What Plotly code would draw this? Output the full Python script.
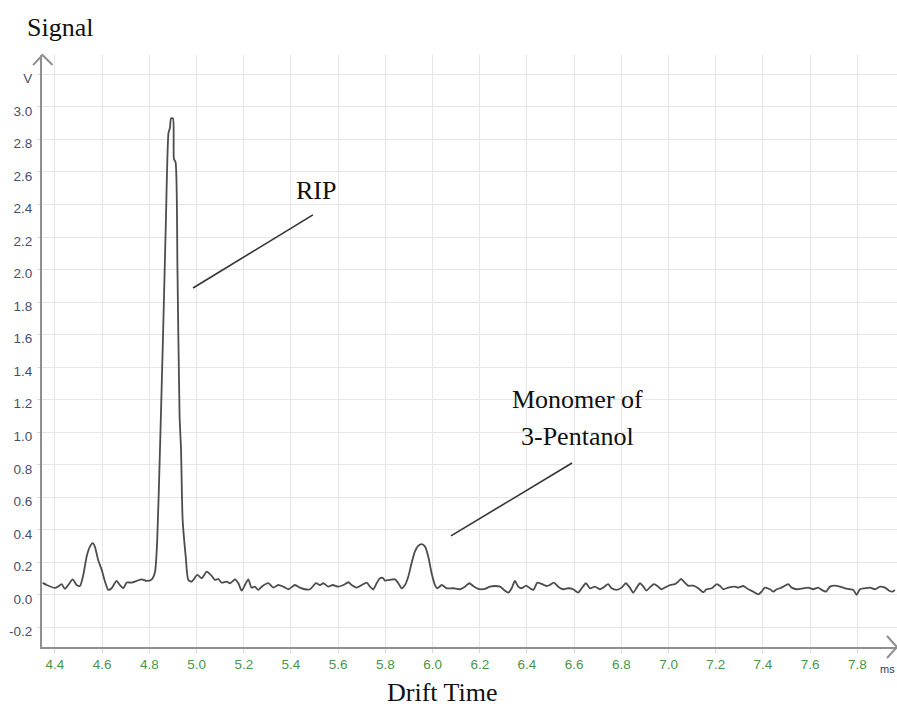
import plotly.graph_objects as go

# Drift-time spectrum (ms) and detector signal (V)
drift_time = [
    4.348, 4.365, 4.400, 4.413, 4.428, 4.442, 4.456, 4.475, 4.492, 4.506,
    4.520, 4.534, 4.548, 4.560, 4.569, 4.583, 4.598, 4.612, 4.626, 4.640,
    4.661, 4.675, 4.689, 4.704, 4.725, 4.746, 4.767, 4.789, 4.810, 4.824,
    4.833, 4.845, 4.858, 4.870, 4.881, 4.887, 4.892, 4.900, 4.904, 4.911,
    4.919, 4.928, 4.934, 4.941, 4.954, 4.965, 4.979, 5.003, 5.022, 5.043,
    5.064, 5.078, 5.092, 5.106, 5.128, 5.142, 5.163, 5.177, 5.191, 5.205,
    5.219, 5.233, 5.247, 5.261, 5.276, 5.304, 5.325, 5.346, 5.367, 5.389,
    5.417, 5.438, 5.459, 5.481, 5.506, 5.523, 5.537, 5.558, 5.577, 5.600,
    5.622, 5.643, 5.657, 5.678, 5.700, 5.721, 5.735, 5.749, 5.763, 5.777,
    5.791, 5.798, 5.819, 5.841, 5.855, 5.869, 5.883, 5.897, 5.911, 5.925,
    5.939, 5.954, 5.968, 5.982, 5.996, 6.010, 6.020, 6.039, 6.060, 6.088,
    6.116, 6.137, 6.156, 6.172, 6.194, 6.222, 6.243, 6.264, 6.286, 6.303,
    6.321, 6.335, 6.349, 6.363, 6.378, 6.396, 6.413, 6.427, 6.444, 6.462,
    6.483, 6.497, 6.514, 6.532, 6.554, 6.575, 6.596, 6.617, 6.632, 6.650,
    6.667, 6.688, 6.709, 6.723, 6.744, 6.759, 6.780, 6.801, 6.819, 6.836,
    6.850, 6.865, 6.879, 6.893, 6.907, 6.921, 6.938, 6.956, 6.970, 6.992,
    7.006, 7.027, 7.041, 7.053, 7.069, 7.083, 7.105, 7.126, 7.147, 7.161,
    7.183, 7.204, 7.218, 7.232, 7.253, 7.281, 7.295, 7.317, 7.338, 7.359,
    7.380, 7.394, 7.408, 7.430, 7.444, 7.458, 7.472, 7.486, 7.507, 7.522,
    7.543, 7.571, 7.592, 7.613, 7.634, 7.649, 7.667, 7.684, 7.705, 7.726,
    7.747, 7.768, 7.783, 7.797, 7.811, 7.832, 7.853, 7.875, 7.896, 7.917,
    7.935, 7.949, 7.959,
]
signal = [
    0.074, 0.061, 0.043, 0.051, 0.066, 0.037, 0.061, 0.096, 0.061, 0.055,
    0.123, 0.235, 0.297, 0.318, 0.297, 0.215, 0.154, 0.082, 0.031, 0.041,
    0.086, 0.061, 0.041, 0.076, 0.076, 0.086, 0.096, 0.086, 0.096, 0.143,
    0.328, 0.900, 1.600, 2.300, 2.840, 2.870, 2.930, 2.930, 2.680, 2.660,
    2.000, 1.100, 0.900, 0.460, 0.235, 0.092, 0.082, 0.123, 0.103, 0.143,
    0.117, 0.092, 0.098, 0.076, 0.082, 0.072, 0.096, 0.072, 0.026, 0.061,
    0.096, 0.045, 0.051, 0.031, 0.051, 0.072, 0.045, 0.061, 0.051, 0.035,
    0.061, 0.045, 0.035, 0.035, 0.072, 0.061, 0.072, 0.051, 0.061, 0.051,
    0.061, 0.078, 0.061, 0.045, 0.061, 0.076, 0.051, 0.035, 0.072, 0.103,
    0.103, 0.088, 0.092, 0.096, 0.072, 0.041, 0.061, 0.112, 0.195, 0.266,
    0.301, 0.312, 0.297, 0.235, 0.133, 0.061, 0.041, 0.061, 0.041, 0.041,
    0.035, 0.051, 0.072, 0.055, 0.037, 0.037, 0.051, 0.055, 0.051, 0.031,
    0.014, 0.041, 0.086, 0.051, 0.041, 0.057, 0.041, 0.031, 0.076, 0.068,
    0.055, 0.061, 0.076, 0.051, 0.035, 0.041, 0.035, 0.014, 0.041, 0.072,
    0.041, 0.051, 0.035, 0.045, 0.066, 0.041, 0.031, 0.045, 0.072, 0.045,
    0.014, 0.045, 0.072, 0.051, 0.026, 0.047, 0.066, 0.051, 0.035, 0.051,
    0.061, 0.066, 0.082, 0.098, 0.076, 0.057, 0.057, 0.041, 0.017, 0.035,
    0.041, 0.066, 0.055, 0.035, 0.045, 0.051, 0.045, 0.055, 0.035, 0.020,
    0.004, 0.020, 0.045, 0.035, 0.020, 0.035, 0.041, 0.051, 0.066, 0.045,
    0.035, 0.041, 0.045, 0.035, 0.045, 0.031, 0.020, 0.051, 0.057, 0.051,
    0.041, 0.035, 0.031, 0.000, 0.035, 0.041, 0.045, 0.035, 0.051, 0.045,
    0.026, 0.020, 0.031,
]

x_ticks = [4.4, 4.6, 4.8, 5.0, 5.2, 5.4, 5.6, 5.8, 6.0, 6.2, 6.4, 6.6,
           6.8, 7.0, 7.2, 7.4, 7.6, 7.8]
x_tick_labels = ["4.4", "4.6", "4.8", "5.0", "5.2", "5.4", "5.6", "5.8",
                 "6.0", "6.2", "6.4", "6.6", "6.8", "7.0", "7.2", "7.4",
                 "7.6", "7.8"]
y_ticks = [-0.2, 0.0, 0.2, 0.4, 0.6, 0.8, 1.0, 1.2, 1.4, 1.6, 1.8, 2.0,
           2.2, 2.4, 2.6, 2.8, 3.0, 3.2]
y_tick_labels = ["-0.2", "0.0", "0.2", "0.4", "0.6", "0.8", "1.0", "1.2",
                 "1.4", "1.6", "1.8", "2.0", "2.2", "2.4", "2.6", "2.8",
                 "3.0", "V"]

# Peak labels and the leader lines pointing at each peak
peak_labels = ["RIP", "Monomer of", "3-Pentanol"]
peak_label_pos = [(5.506, 2.489), (6.616, 1.199), (6.616, 0.971)]
leader_lines = [((4.985, 1.887), (5.493, 2.336)),
                ((6.078, 0.363), (6.591, 0.811))]

X_RANGE = [4.345, 7.968]
Y_RANGE = [-0.320, 3.319]

SERIF = "Liberation Serif, Times New Roman, serif"
SANS = "Liberation Sans, Arial, sans-serif"
AXIS_GREY = "#8f8f8f"

fig = go.Figure()
fig.add_trace(go.Scatter(
    x=drift_time, y=signal, mode="lines",
    line=dict(color="#4d4d4d", width=1.8, shape="spline", smoothing=0.6),
    hoverinfo="x+y", showlegend=False,
))

fig.update_xaxes(
    range=X_RANGE, tickvals=x_ticks, ticktext=x_tick_labels,
    showgrid=True, gridcolor="#e6e6e6", gridwidth=1,
    showline=True, linecolor=AXIS_GREY, linewidth=2,
    ticks="outside", ticklen=4, tickcolor="#d8d8d8",
    tickfont=dict(family=SANS, size=13.5, color="#4a954a"),
    zeroline=False,
)
fig.update_yaxes(
    range=Y_RANGE, tickvals=y_ticks, ticktext=y_tick_labels,
    showgrid=True, gridcolor="#e6e6e6", gridwidth=1,
    showline=True, linecolor=AXIS_GREY, linewidth=2,
    ticks="outside", ticklen=3, tickcolor="#d8d8d8",
    tickfont=dict(family=SANS, size=13.5, color="#47506c"),
    ticklabelshift=4, ticklabelstandoff=2,
    zeroline=False,
)

annotations = []
for text, (ax, ay) in zip(peak_labels, peak_label_pos):
    annotations.append(dict(
        x=ax, y=ay, xref="x", yref="y", text=text, showarrow=False,
        font=dict(family=SERIF, size=26, color="#111111"),
        xanchor="center", yanchor="middle",
    ))
annotations += [
    dict(x=0.021, y=1.047, xref="paper", yref="paper", text="Signal",
         showarrow=False, font=dict(family=SERIF, size=26, color="#111111"),
         xanchor="center", yanchor="middle"),
    dict(x=0.469, y=-0.077, xref="paper", yref="paper", text="Drift Time",
         showarrow=False, font=dict(family=SERIF, size=26, color="#111111"),
         xanchor="center", yanchor="middle"),
    dict(x=1.0, y=-0.037, xref="paper", yref="paper", text="ms",
         showarrow=False, font=dict(family=SANS, size=11, color="#33395a"),
         xanchor="right", yanchor="middle"),
]

shapes = []
for (x0, y0), (x1, y1) in leader_lines:
    shapes.append(dict(type="line", xref="x", yref="y",
                       x0=x0, y0=y0, x1=x1, y1=y1,
                       line=dict(color="#333333", width=1.6)))

# Arrow heads at the ends of both axes
arrow = dict(color=AXIS_GREY, width=2)
shapes += [
    dict(type="path", xref="paper", yref="paper",
         path="M -0.0105 0.983 L 0.0006 1.0 L 0.0123 0.983", line=arrow),
    dict(type="path", xref="paper", yref="paper",
         path="M 0.9883 0.0186 L 1.0 0.0 L 0.9883 -0.0186", line=arrow),
]

fig.update_layout(
    width=897, height=708,
    margin=dict(l=42, r=0, t=55, b=61),
    paper_bgcolor="white", plot_bgcolor="white",
    annotations=annotations, shapes=shapes,
)

fig.write_html("out.html")
